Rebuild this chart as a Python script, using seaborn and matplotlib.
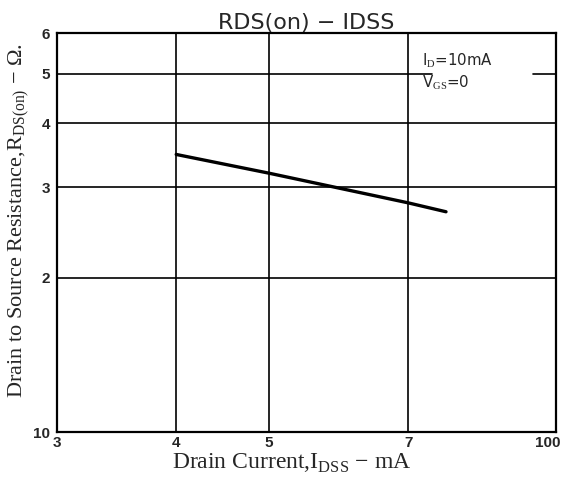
import matplotlib
matplotlib.use('Agg')
import matplotlib.pyplot as plt
import matplotlib.transforms as mtransforms
import pandas as pd
import seaborn as sns

# curve (log-log)
idss_ma = [4.0, 5.0, 7.0, 7.67]
rds_on = [3.48, 3.20, 2.80, 2.69]

x_ticks = [3, 4, 5, 7, 10]
x_tick_labels = ['3', '4', '5', '7', '100']
y_ticks = [1, 2, 3, 4, 5, 6]
y_tick_labels = ['10', '2', '3', '4', '5', '6']

sns.set_theme(style='white')
plt.rcParams['font.family'] = ['Liberation Sans', 'DejaVu Sans']
plt.rcParams['mathtext.fontset'] = 'custom'
plt.rcParams['mathtext.rm'] = 'Liberation Serif'

df = pd.DataFrame({'Idss': idss_ma, 'Rds': rds_on})

fig = plt.figure(figsize=(5.67, 4.84), dpi=100)
ax = fig.add_axes([0.1005, 0.1074, 0.880, 0.824])

ax.set_xscale('log')
ax.set_yscale('log')
ax.set_xlim(3, 10)
ax.set_ylim(1, 6)

# grid lines drawn by hand so the one at 5 can break for the condition text
for xv in [4, 5, 7]:
    ax.axvline(xv, color='black', lw=1.2, zorder=1)
for yv in [2, 3, 4]:
    ax.axhline(yv, color='black', lw=1.2, zorder=1)
ax.axhline(5, xmin=0, xmax=0.751, color='black', lw=1.2, zorder=1)
ax.axhline(5, xmin=0.954, xmax=1, color='black', lw=1.2, zorder=1)

sns.lineplot(data=df, x='Idss', y='Rds', ax=ax, color='black', lw=2.4, zorder=3)

ax.set_xticks(x_ticks)
ax.set_xticklabels(x_tick_labels)
ax.set_yticks(y_ticks)
ax.set_yticklabels(y_tick_labels)
ax.minorticks_off()
ax.tick_params(axis='both', length=3, width=1.2, color='black', labelsize=11, pad=2)
for lab in ax.get_xticklabels() + ax.get_yticklabels():
    lab.set_fontweight('bold')
ax.tick_params(axis='x', length=0, pad=3)

# last x label sits a little left of the frame edge, as on the datasheet
shift = mtransforms.ScaledTranslation(-8 / 100, 0, fig.dpi_scale_trans)
last = ax.get_xticklabels()[-1]
last.set_transform(last.get_transform() + shift)

for sp in ax.spines.values():
    sp.set_color('black')
    sp.set_linewidth(1.6)

ax.text(0.731, 0.932, r'I$_{\rm D}$=10mA', transform=ax.transAxes,
        fontsize=10.8, va='center', ha='left', family='DejaVu Sans')
ax.text(0.731, 0.875, r'V$_{\rm GS}$=0', transform=ax.transAxes,
        fontsize=10.8, va='center', ha='left', family='DejaVu Sans')

ax.set_title('RDS(on) \u2212 IDSS', fontsize=16, pad=3, family='DejaVu Sans')
ax.set_xlabel(r'Drain Current,I$_{\rm DSS}$ $-$ mA', fontsize=17,
              family='Liberation Serif', labelpad=0)
ax.set_ylabel(r'Drain to Source Resistance,R$_{\rm DS(on)}$ $-$ $\Omega$.',
              fontsize=16, family='Liberation Serif', labelpad=2)
ax.xaxis.set_label_coords(0.47, -0.05)
ax.yaxis.set_label_coords(-0.05, 0.53)

fig.savefig('out.png', dpi=100)
